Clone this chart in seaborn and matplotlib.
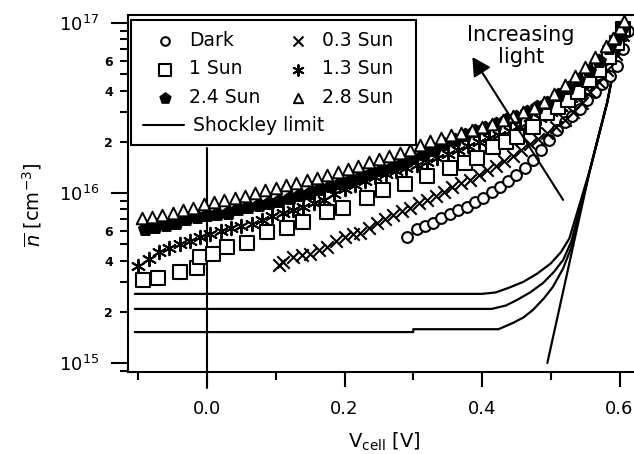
import pandas as pd
import seaborn as sns
import matplotlib.pyplot as plt
from matplotlib.ticker import LogLocator, FuncFormatter, FixedLocator
from matplotlib.patches import Rectangle
from matplotlib.lines import Line2D

# ---- 数据 ----
dark_v = [0.291, 0.305, 0.317, 0.329, 0.341, 0.353, 0.365, 0.378, 0.39, 0.402, 0.414, 0.426,
          0.438, 0.45, 0.462, 0.474, 0.486, 0.498, 0.509, 0.52, 0.531, 0.542, 0.553, 0.564,
          0.575, 0.586, 0.596, 0.605, 0.612]
dark_n = [5.5e15, 6.1e15, 6.4e15, 6.7e15, 7.1e15, 7.5e15, 7.9e15, 8.3e15, 8.8e15, 9.4e15, 1.01e16, 1.08e16,
          1.17e16, 1.27e16, 1.4e16, 1.56e16, 1.78e16, 2.05e16, 2.35e16, 2.6e16, 2.85e16, 3.1e16, 3.5e16, 3.9e16,
          4.4e16, 4.9e16, 5.6e16, 7.0e16, 9.0e16]

sun03_v = [0.105, 0.111, 0.125, 0.138, 0.15, 0.163, 0.175, 0.188, 0.201, 0.212, 0.223, 0.235,
           0.247, 0.259, 0.271, 0.283, 0.295, 0.308, 0.32, 0.333, 0.345, 0.357, 0.37, 0.382,
           0.395, 0.407, 0.42, 0.432, 0.445, 0.457, 0.47, 0.482, 0.495, 0.507, 0.52, 0.532,
           0.545, 0.557, 0.57, 0.582, 0.595, 0.605]
sun03_n = [3.75e15, 3.9e15, 4.2e15, 4.3e15, 4.4e15, 4.6e15, 4.8e15, 5.2e15, 5.5e15, 5.7e15, 5.8e15, 6.2e15,
           6.7e15, 7.0e15, 7.4e15, 7.8e15, 8.2e15, 8.7e15, 9.1e15, 9.6e15, 1.02e16, 1.08e16, 1.14e16, 1.2e16,
           1.28e16, 1.36e16, 1.45e16, 1.55e16, 1.66e16, 1.78e16, 1.93e16, 2.08e16, 2.25e16, 2.45e16, 2.7e16, 3.0e16,
           3.4e16, 3.9e16, 4.5e16, 5.3e16, 6.6e16, 8.5e16]

sun1_v = [-0.093, -0.071, -0.039, -0.015, -0.01, 0.009, 0.029, 0.058, 0.087, 0.116, 0.14, 0.175,
          0.198, 0.233, 0.256, 0.288, 0.32, 0.353, 0.375, 0.393, 0.416, 0.435, 0.451, 0.474,
          0.495, 0.51, 0.525, 0.54, 0.555, 0.57, 0.585, 0.597, 0.605]
sun1_n = [3.08e15, 3.16e15, 3.43e15, 3.6e15, 4.2e15, 4.4e15, 4.8e15, 5.1e15, 5.9e15, 6.2e15, 6.75e15, 7.7e15,
          8.2e15, 9.3e15, 1.04e16, 1.13e16, 1.25e16, 1.4e16, 1.5e16, 1.61e16, 1.87e16, 2.0e16, 2.13e16, 2.45e16,
          2.96e16, 3.2e16, 3.5e16, 3.95e16, 4.6e16, 5.3e16, 6.3e16, 7.6e16, 9.2e16]

sun13_v = [-0.1, -0.085, -0.07, -0.055, -0.04, -0.025, -0.01, 0.005, 0.02, 0.035, 0.05, 0.065,
           0.08, 0.095, 0.11, 0.125, 0.14, 0.155, 0.17, 0.185, 0.2, 0.215, 0.23, 0.245,
           0.26, 0.275, 0.29, 0.305, 0.32, 0.335, 0.35, 0.365, 0.38, 0.395, 0.41, 0.425,
           0.44, 0.455, 0.47, 0.485, 0.5, 0.515, 0.53, 0.545, 0.56, 0.575, 0.59, 0.6]
sun13_n = [3.7e15, 4.1e15, 4.5e15, 4.75e15, 5.0e15, 5.25e15, 5.5e15, 5.75e15, 6.0e15, 6.2e15, 6.4e15, 6.6e15,
           6.9e15, 7.3e15, 7.6e15, 7.9e15, 8.3e15, 8.7e15, 9.1e15, 9.8e15, 1.05e16, 1.12e16, 1.18e16, 1.24e16,
           1.3e16, 1.35e16, 1.4e16, 1.46e16, 1.52e16, 1.6e16, 1.7e16, 1.8e16, 1.9e16, 2.0e16, 2.1e16, 2.2e16,
           2.32e16, 2.43e16, 2.55e16, 2.75e16, 2.98e16, 3.2e16, 3.6e16, 4.0e16, 4.7e16, 5.5e16, 6.8e16, 8.3e16]

sun24_v = [-0.09, -0.075, -0.06, -0.045, -0.03, -0.015, 0.0, 0.015, 0.03, 0.045, 0.06, 0.075,
           0.09, 0.105, 0.12, 0.135, 0.15, 0.165, 0.18, 0.195, 0.21, 0.225, 0.24, 0.255,
           0.27, 0.285, 0.3, 0.315, 0.33, 0.345, 0.36, 0.375, 0.39, 0.405, 0.42, 0.435,
           0.45, 0.465, 0.48, 0.495, 0.51, 0.525, 0.54, 0.555, 0.57, 0.585, 0.595, 0.605]
sun24_n = [6.1e15, 6.3e15, 6.5e15, 6.7e15, 7.0e15, 7.2e15, 7.4e15, 7.5e15, 7.6e15, 8.0e15, 8.3e15, 8.5e15,
           8.7e15, 9.0e15, 9.4e15, 9.7e15, 1.0e16, 1.05e16, 1.1e16, 1.15e16, 1.2e16, 1.25e16, 1.31e16, 1.37e16,
           1.43e16, 1.5e16, 1.6e16, 1.7e16, 1.8e16, 1.93e16, 2.05e16, 2.18e16, 2.3e16, 2.42e16, 2.55e16, 2.67e16,
           2.8e16, 3.0e16, 3.2e16, 3.4e16, 3.75e16, 4.15e16, 4.6e16, 5.2e16, 6.0e16, 7.1e16, 8.1e16, 9.6e16]

sun28_v = [-0.095, -0.08, -0.065, -0.05, -0.035, -0.02, -0.005, 0.01, 0.025, 0.04, 0.055, 0.07,
           0.085, 0.1, 0.115, 0.13, 0.145, 0.16, 0.175, 0.19, 0.205, 0.22, 0.235, 0.25,
           0.265, 0.28, 0.295, 0.31, 0.325, 0.34, 0.355, 0.37, 0.385, 0.4, 0.415, 0.43,
           0.445, 0.46, 0.475, 0.49, 0.505, 0.52, 0.535, 0.55, 0.565, 0.58, 0.59, 0.6, 0.607]
sun28_n = [7.1e15, 7.2e15, 7.4e15, 7.6e15, 7.9e15, 8.2e15, 8.6e15, 8.8e15, 9.1e15, 9.4e15, 9.6e15, 1.0e16,
           1.04e16, 1.07e16, 1.11e16, 1.15e16, 1.19e16, 1.23e16, 1.28e16, 1.32e16, 1.38e16, 1.45e16, 1.52e16, 1.58e16,
           1.65e16, 1.71e16, 1.8e16, 1.92e16, 2.03e16, 2.1e16, 2.18e16, 2.26e16, 2.35e16, 2.44e16, 2.56e16, 2.7e16,
           2.85e16, 3.0e16, 3.17e16, 3.45e16, 3.8e16, 4.3e16, 4.9e16, 5.5e16, 6.3e16, 7.3e16, 8.2e16, 9.4e16, 1.03e17]

# Shockley limit 曲线
shock_a_v = [-0.105, 0.40, 0.42, 0.44, 0.46, 0.48, 0.50, 0.515, 0.527, 0.557, 0.582, 0.605]
shock_a_n = [2.55e15, 2.55e15, 2.6e15, 2.78e15, 3.0e15, 3.35e15, 3.85e15, 4.5e15, 5.4e15, 1.37e16, 3.4e16, 1.0e17]
shock_b_v = [-0.105, 0.414, 0.435, 0.451, 0.47, 0.489, 0.505, 0.518, 0.53, 0.557, 0.582, 0.605]
shock_b_n = [2.08e15, 2.08e15, 2.18e15, 2.35e15, 2.6e15, 2.96e15, 3.45e15, 4.04e15, 5.2e15, 1.37e16, 3.4e16, 1.0e17]
shock_c_v = [-0.105, 0.30, 0.30, 0.424, 0.445, 0.46, 0.474, 0.49, 0.503, 0.518, 0.53, 0.557, 0.582, 0.605]
shock_c_n = [1.52e15, 1.52e15, 1.58e15, 1.58e15, 1.72e15, 1.85e15, 2.05e15, 2.4e15, 2.8e15, 3.6e15, 4.8e15,
             1.37e16, 3.4e16, 1.0e17]
shock_d_v = [0.495, 0.557, 0.582, 0.605]
shock_d_n = [1.0e15, 1.37e16, 3.4e16, 1.0e17]

x_major = [0.0, 0.2, 0.4, 0.6]
x_minor = [-0.1, 0.1, 0.3, 0.5]

sns.set_theme(style="ticks")
plt.rcParams['font.family'] = ['DejaVu Sans']
plt.rcParams['axes.linewidth'] = 1.5
for key in ['text.color', 'axes.labelcolor', 'xtick.color', 'ytick.color',
            'xtick.labelcolor', 'ytick.labelcolor', 'axes.edgecolor']:
    plt.rcParams[key] = 'black'

fig = plt.figure(figsize=(6.34, 4.54), dpi=100)
ax = fig.add_axes([0.2019, 0.1806, 0.8076, 0.7864])

# Shockley 曲线
frames = []
for name, v, n in [('a', shock_a_v, shock_a_n), ('b', shock_b_v, shock_b_n),
                   ('c', shock_c_v, shock_c_n), ('d', shock_d_v, shock_d_n)]:
    frames.append(pd.DataFrame({'V': v, 'n': n, 'curve': name}))
shock = pd.concat(frames, ignore_index=True)
sns.lineplot(data=shock, x='V', y='n', units='curve', estimator=None, sort=False,
             color='black', lw=1.6, ax=ax, legend=False)

# 测量数据
series = [
    ('Dark', dark_v, dark_n, dict(marker='o', s=60, color='black', facecolor='white', edgecolor='black', linewidth=1.5)),
    ('0.3 Sun', sun03_v, sun03_n, dict(marker='x', s=80, color='black', linewidth=1.5)),
    ('1.3 Sun', sun13_v, sun13_n, dict(marker=(6, 2, 0), s=95, color='black', linewidth=1.4)),
    ('1 Sun', sun1_v, sun1_n, dict(marker='s', s=100, color='black', facecolor='white', edgecolor='black', linewidth=1.5)),
    ('2.4 Sun', sun24_v, sun24_n, dict(marker='p', s=105, color='black', edgecolor='black', linewidth=1.0)),
    ('2.8 Sun', sun28_v, sun28_n, dict(marker='^', s=70, color='black', facecolor='white', edgecolor='black', linewidth=1.4)),
]
for label, v, n, kw in series:
    sns.scatterplot(x=v, y=n, label=label, ax=ax, legend=False, zorder=3, **kw)

ax.set_yscale('log')
ax.set_xlim(-0.1149, 0.6298)
ax.set_ylim(8.85e14, 1.114e17)

# 坐标轴刻度
ax.xaxis.set_major_locator(FixedLocator(x_major))
ax.xaxis.set_minor_locator(FixedLocator(x_minor))
ax.xaxis.set_major_formatter(FuncFormatter(lambda v, p: f"{v:.1f}"))
ax.yaxis.set_major_locator(LogLocator(base=10))
ax.yaxis.set_minor_locator(LogLocator(base=10, subs=(2, 3, 4, 5, 6, 7, 8, 9)))


def minor_fmt(v, pos):
    m = round(v / 10 ** int(f"{v:e}".split('e')[1]))
    return str(m) if m in (2, 4, 6) else ''


ax.yaxis.set_minor_formatter(FuncFormatter(minor_fmt))
ax.tick_params(axis='x', which='major', direction='out', length=11, width=1.5, pad=9, labelsize=13, colors='black')
ax.tick_params(axis='x', which='minor', direction='out', length=6, width=1.5, colors='black')
ax.tick_params(axis='y', which='major', direction='out', length=12, width=1.5, pad=9, labelsize=13, colors='black')
ax.tick_params(axis='y', which='minor', direction='out', length=6, width=1.5, pad=5, labelsize=9, colors='black')
for t in ax.yaxis.get_minorticklabels():
    t.set_fontweight('bold')

ax.spines['right'].set_visible(False)
for sp in ['left', 'bottom', 'top']:
    ax.spines[sp].set_color('black')

# 竖线 V=0
ax.axvline(0, ymin=-0.045, ymax=0.627, color='black', lw=1.5, clip_on=False, zorder=2)

# 标签
ax.set_xlabel(r'V$_{\mathrm{cell}}$ [V]', fontsize=14)
ax.xaxis.set_label_coords(0.5, -0.165)
ax.set_ylabel(r'$\overline{n}$ [cm$^{-3}$]', fontsize=14)
ax.yaxis.set_label_coords(-0.165, 0.47)

# Increasing light
ax.annotate('', xy=(0.386, 6.3e16), xytext=(0.518, 9.1e15),
            arrowprops=dict(arrowstyle='-|>,head_length=0.55,head_width=0.3', lw=1.5,
                            color='black', mutation_scale=20, shrinkA=0, shrinkB=0), zorder=6)
ax.text(0.457, 7.3e16, 'Increasing\nlight', ha='center', va='center', fontsize=15,
        linespacing=1.1, zorder=6)

# 图例
ax.add_patch(Rectangle((0.0059, 0.636), 0.5566, 0.35, transform=ax.transAxes,
                       facecolor='white', edgecolor='black', lw=1.5, zorder=4.5))
hd, lb = ax.get_legend_handles_labels()
hmap = dict(zip(lb, hd))
order = ['Dark', '1 Sun', '2.4 Sun', '0.3 Sun', '1.3 Sun', '2.8 Sun']
leg1 = ax.legend([hmap[k] for k in order], order, ncol=2, loc='upper left',
                 bbox_to_anchor=(0.035, 0.955), frameon=False, borderpad=0, borderaxespad=0,
                 handlelength=2.0, handletextpad=0.3, columnspacing=1.0, labelspacing=0.5,
                 fontsize=13.5, scatterpoints=1, markerscale=0.8)
leg1.set_zorder(6)
ax.add_artist(leg1)
leg2 = ax.legend([Line2D([], [], color='black', lw=1.5)], ['Shockley limit'], loc='upper left',
                 bbox_to_anchor=(0.029, 0.716), frameon=False, borderpad=0, borderaxespad=0,
                 handlelength=2.2, handletextpad=0.5, fontsize=13.5)
leg2.set_zorder(6)

fig.savefig('out.png', dpi=100)
